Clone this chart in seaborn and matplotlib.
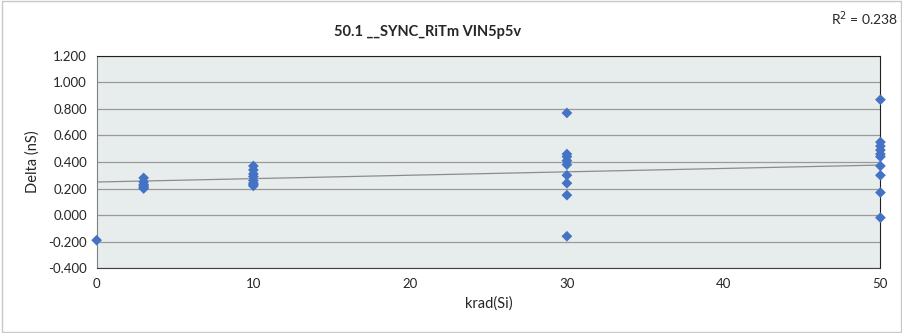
import numpy as np
import pandas as pd
import matplotlib
matplotlib.use("Agg")
import matplotlib.pyplot as plt
from matplotlib.patches import Rectangle
import seaborn as sns

# dose levels (krad(Si)) and measured delta values (nS) per level
dose_0 = [-0.19]
dose_3 = [0.28, 0.25, 0.23, 0.22, 0.21, 0.20]
dose_10 = [0.37, 0.34, 0.31, 0.29, 0.26, 0.24, 0.23, 0.22]
dose_30 = [0.77, 0.46, 0.44, 0.41, 0.38, 0.30, 0.24, 0.15, -0.16]
dose_50 = [0.87, 0.55, 0.52, 0.49, 0.46, 0.44, 0.37, 0.30, 0.17, -0.02]

# linear trendline
trend_x = [0, 50]
trend_y = [0.249, 0.377]

title = "50.1 __SYNC_RiTm VIN5p5v"
r2_label = "R$^2$ = 0.238"
y_ticks = [-0.4, -0.2, 0.0, 0.2, 0.4, 0.6, 0.8, 1.0, 1.2]
x_ticks = [0, 10, 20, 30, 40, 50]

groups = {0: dose_0, 3: dose_3, 10: dose_10, 30: dose_30, 50: dose_50}
df = pd.DataFrame([(k, v) for k, vals in groups.items() for v in vals], columns=["krad", "delta"])

sns.set_style("white")
plt.rcParams["font.family"] = ["Lato", "DejaVu Sans"]

fig = plt.figure(figsize=(9.03, 3.33), dpi=100)
ax = fig.add_axes([0.107, 0.195, 0.868, 0.637])
ax.set_facecolor("#e7ecec")

sns.lineplot(x=trend_x, y=trend_y, color="#8c8c8c", lw=0.9, ax=ax)
sns.scatterplot(data=df, x="krad", y="delta", marker="D", s=30, color="#4472c4",
                edgecolor="none", ax=ax, zorder=3, clip_on=False)

ax.set_xlim(0, 50)
ax.set_ylim(-0.4, 1.2)
ax.set_xticks(x_ticks)
ax.set_yticks(y_ticks)
ax.set_yticklabels([f"{t:.3f}" for t in y_ticks])
ax.tick_params(labelsize=9.5, length=3, color="#888888", pad=4)
ax.yaxis.grid(True, color="#9a9a9a", lw=0.9)
ax.set_axisbelow(True)
for side in ["left", "bottom"]:
    ax.spines[side].set_color("#808080")
for side in ["top", "right"]:
    ax.spines[side].set_color("#202020")
ax.spines["bottom"].set_color("#404040")

ax.set_xlabel("krad(Si)", fontsize=10.5, labelpad=5)
ax.set_ylabel("Delta (nS)", fontsize=10.5, labelpad=6)
fig.text(0.473, 0.905, title, ha="center", va="center", fontsize=10.5, fontweight="bold")
fig.text(0.995, 0.945, r2_label, ha="right", va="center", fontsize=10)

fig.patches.append(Rectangle((0.002, 0.004), 0.996, 0.992, transform=fig.transFigure,
                             fill=False, edgecolor="#c8c8c8", lw=1))

fig.savefig("out.png", dpi=100)
